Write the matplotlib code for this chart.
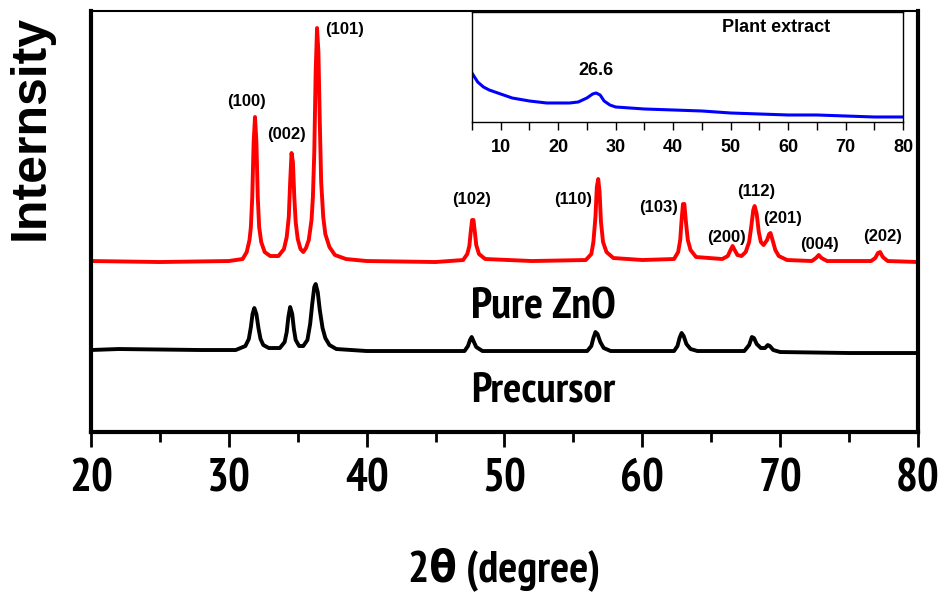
import matplotlib
matplotlib.use("Agg")
import matplotlib.pyplot as plt
from matplotlib import font_manager
from matplotlib.font_manager import FontProperties
from matplotlib.ticker import MultipleLocator

# ---- data (intensity in arbitrary units) ----
zno_x = [20, 25, 30, 31.0, 31.3, 31.5, 31.6, 31.7, 31.8, 31.9, 32.0, 32.1, 32.2, 32.35, 32.6,
         33.0, 33.6, 34.0, 34.2, 34.35, 34.45, 34.55, 34.65, 34.75, 34.85, 35.0, 35.2, 35.4,
         35.6, 35.8, 36.0, 36.1, 36.2, 36.3, 36.4, 36.5, 36.6, 36.7, 36.85, 37.0, 37.3, 37.7,
         38.5, 40, 45, 47.0, 47.3, 47.45, 47.55, 47.65, 47.75, 47.85, 47.95, 48.15, 48.6, 52,
         55.9, 56.3, 56.45, 56.6, 56.7, 56.8, 56.9, 57.0, 57.15, 57.4, 57.9, 60, 62.3, 62.6,
         62.75, 62.85, 62.95, 63.05, 63.15, 63.3, 63.5, 63.9, 65.8, 66.2, 66.4, 66.55, 66.7,
         66.9, 67.2, 67.5, 67.75, 67.9, 68.05, 68.15, 68.3, 68.45, 68.6, 68.8, 69.05, 69.2,
         69.3, 69.45, 69.65, 69.9, 70.5, 72.3, 72.6, 72.8, 73.0, 73.4, 76.6, 76.9, 77.1, 77.25,
         77.45, 77.8, 80]
zno_y = [171, 170, 171, 173, 180, 192, 205, 235, 290, 315, 290, 235, 205, 190, 180,
         176, 176, 183, 195, 215, 250, 279, 270, 235, 210, 193, 183, 180,
         184, 192, 212, 235, 280, 360, 404, 380, 310, 250, 215, 198, 185, 177,
         173, 171, 170, 172, 178, 186, 200, 212, 212, 200, 187, 178, 173, 171,
         172, 178, 190, 215, 245, 253, 240, 210, 190, 180, 174, 172, 173, 180,
         192, 212, 228, 228, 212, 192, 182, 175, 173, 176, 182, 186, 182,
         177, 176, 180, 190, 205, 222, 226, 218, 200, 190, 187, 192, 198,
         199, 192, 182, 176, 172, 171, 174, 177, 174, 171, 171, 174, 179, 180,
         175, 171, 170]

prec_x = [20, 22, 28, 30.5, 31.2, 31.45, 31.6, 31.72, 31.85, 32.0, 32.15, 32.3, 32.5, 32.9,
          33.7, 34.05, 34.2, 34.32, 34.45, 34.6, 34.72, 34.85, 35.1, 35.4, 35.7, 35.9, 36.05,
          36.2, 36.3, 36.45, 36.6, 36.8, 37.0, 37.3, 37.8, 40, 47.1, 47.35, 47.5, 47.62, 47.75,
          47.95, 48.4, 56.0, 56.3, 56.45, 56.6, 56.75, 56.95, 57.2, 57.7, 62.3, 62.55, 62.7,
          62.85, 63.0, 63.2, 63.5, 64, 67.4, 67.75, 67.95, 68.1, 68.3, 68.6, 68.9, 69.1, 69.25,
          69.5, 70, 75, 80]
prec_y = [82, 83, 82, 82, 86, 93, 105, 118, 124, 118, 104, 93, 87, 84,
          84, 90, 100, 115, 125, 118, 103, 92, 86, 86, 92, 108, 128,
          145, 148, 140, 122, 104, 94, 87, 83, 81, 81, 86, 92, 95, 91,
          85, 81, 81, 86, 94, 100, 98, 90, 84, 81, 81, 86, 94,
          99, 96, 88, 83, 81, 81, 87, 95, 94, 88, 84, 84, 87, 86,
          82, 80, 79, 79]

plant_x = [5, 6, 7, 8, 9, 10, 12, 15, 18, 20, 22, 23.5, 25, 26, 26.6, 27.3, 28, 29, 30,
           35, 40, 45, 50, 55, 60, 65, 70, 75, 80]
plant_y = [49, 40, 35, 32, 30, 28, 24, 21, 19, 19, 19, 20, 24, 28, 29, 27, 21, 17, 15,
           13, 12, 11, 9, 8, 7, 7, 6, 5, 5]

hkl_labels = ["(100)", "(002)", "(101)", "(102)", "(110)", "(103)",
              "(200)", "(112)", "(201)", "(004)", "(202)"]
hkl_pos = [(31.25, 331), (34.15, 298), (38.43, 403), (47.64, 233), (54.97, 233), (61.21, 225),
           (66.14, 195), (68.25, 241), (70.21, 214), (72.89, 188), (77.46, 196)]

# ---- fonts: look for a narrow bold face for the big labels ----
plt.rcParams["font.family"] = ["Liberation Sans", "DejaVu Sans"]
narrow = None
best = 99
for f in font_manager.fontManager.ttflist:
    bold = f.weight in ("bold", 700, "heavy", 800) or "Bold" in f.fname
    if not bold:
        continue
    rank = 99
    if "Narrow" in f.name or "Narrow" in f.fname:
        rank = 0
    elif "Condensed" in f.fname and "Semi" not in f.fname and "Extra" not in f.fname:
        rank = 1
    elif str(f.stretch) in ("condensed", "semi-condensed"):
        rank = 2
    if rank < best:
        best, narrow = rank, f


def big(size):
    if narrow is None:
        return FontProperties(family=["Liberation Sans", "DejaVu Sans"], weight="bold", size=size)
    return FontProperties(family=[narrow.name, "DejaVu Sans"], weight=narrow.weight,
                          stretch=narrow.stretch, style=narrow.style, size=size)


fig = plt.figure(figsize=(9.42, 6.06), dpi=100)
ax = fig.add_axes([0.0966, 0.2871, 0.8779, 0.6947])

ax.plot(zno_x, zno_y, color="#ff0000", lw=2.8, solid_joinstyle="round")
ax.plot(prec_x, prec_y, color="black", lw=2.8, solid_joinstyle="round")

for lab, (lx, ly) in zip(hkl_labels, hkl_pos):
    ax.text(lx, ly, lab, ha="center", va="center", fontsize=12, fontweight="bold")

ax.text(52.8, 125, "Pure ZnO", ha="center", va="center", fontproperties=big(32))
ax.text(52.8, 41, "Precursor", ha="center", va="center", fontproperties=big(31))

ax.set_xlim(20, 80)
ax.set_ylim(0, 421)
ax.set_yticks([])
ax.xaxis.set_major_locator(MultipleLocator(10))
ax.xaxis.set_minor_locator(MultipleLocator(5))
ax.tick_params(axis="x", which="major", direction="out", length=11, width=2, pad=8)
ax.tick_params(axis="x", which="minor", direction="out", length=7, width=2)
for side in ["left", "right", "bottom"]:
    ax.spines[side].set_linewidth(3)
ax.spines["top"].set_linewidth(1.5)
for t in ax.get_xticklabels():
    t.set_fontproperties(big(33))

ax.set_xlabel("2\u03b8 (degree)", fontproperties=big(32), labelpad=34)
fig.text(0.032, 0.79, "Internsity", rotation=90, ha="center", va="center",
         fontsize=36, fontweight="bold")

# ---- inset: plant extract ----
ins = fig.add_axes([0.501, 0.7987, 0.4576, 0.1815])
ins.plot(plant_x, plant_y, color="#0000ff", lw=2.2)
ins.set_xlim(5, 80)
ins.set_ylim(0, 110)
ins.set_yticks([])
ins.set_xticks([10, 20, 30, 40, 50, 60, 70, 80])
ins.xaxis.set_minor_locator(MultipleLocator(5))
ins.tick_params(axis="x", which="both", direction="out", length=6, width=1, labelsize=13, pad=6)
for t in ins.get_xticklabels():
    t.set_fontweight("bold")
for s in ins.spines.values():
    s.set_linewidth(1)
ins.text(26.6, 51, "26.6", ha="center", va="center", fontsize=13, fontweight="bold")
ins.text(58, 94, "Plant extract", ha="center", va="center", fontsize=13, fontweight="bold")

fig.savefig("out.png", dpi=100)
